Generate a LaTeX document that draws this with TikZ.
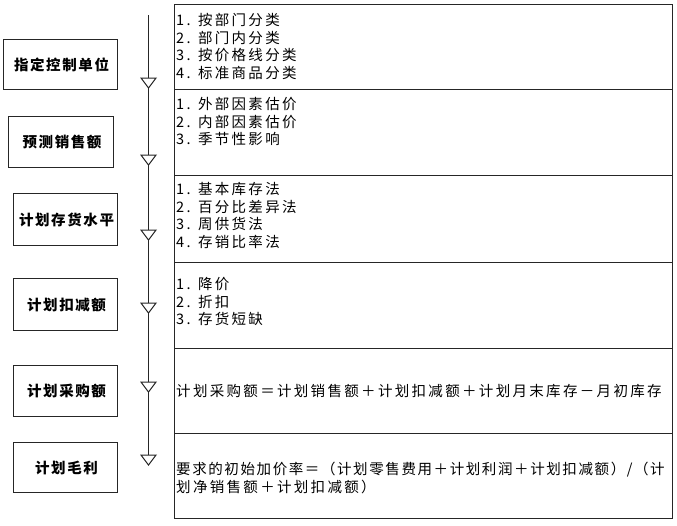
\documentclass[tikz,border=0pt]{standalone}
\usepackage{fontspec}
\setmainfont{Noto Sans CJK SC}
\newfontfamily\bodyfont{Noto Sans CJK SC}[LetterSpace=16]
\newfontfamily\tightfont{Noto Sans CJK SC}[LetterSpace=11]
\newfontfamily\labfont{Noto Sans CJK SC}[LetterSpace=11]
\begin{document}
\begin{tikzpicture}[x=1pt,y=-1pt,
  box/.style={draw=black!85,line width=1.1pt,anchor=north west,inner sep=0pt},
  lab/.style={font=\labfont\fontsize{14.5pt}{16pt}\selectfont\bfseries},
  txt/.style={anchor=base west,inner sep=0pt,font=\bodyfont\fontsize{14.5pt}{17pt}\selectfont},
  tighttxt/.style={txt,font=\tightfont\fontsize{14.5pt}{17pt}\selectfont},
  tri/.style={draw=black!85,line width=1pt,fill=white}]
\useasboundingbox[fill=white] (0,0) rectangle (677,525);
% right table rows
\node[box,minimum width=498pt,minimum height=85pt] (row1) at (174,4) {};
\node[box,minimum width=498pt,minimum height=86pt] (row2) at (174,89) {};
\node[box,minimum width=498pt,minimum height=87pt] (row3) at (174,175) {};
\node[box,minimum width=498pt,minimum height=86pt] (row4) at (174,262) {};
\node[box,minimum width=498pt,minimum height=85pt] (row5) at (174,348) {};
\node[box,minimum width=498pt,minimum height=85pt] (row6) at (174,433) {};
% left boxes
\node[box,minimum width=114pt,minimum height=50pt] (b1) at (3,39) {};
\node[box,minimum width=105pt,minimum height=51pt] (b2) at (8,116) {};
\node[box,minimum width=104pt,minimum height=52pt] (b3) at (13,193) {};
\node[box,minimum width=104pt,minimum height=52pt] (b4) at (13,278) {};
\node[box,minimum width=104pt,minimum height=51pt] (b5) at (13,365) {};
\node[box,minimum width=104pt,minimum height=50pt] (b6) at (13,442) {};
\node[lab] (l1) at ([xshift=1pt]b1.center) {指定控制单位};
\node[lab] (l2) at ([xshift=1pt]b2.center) {预测销售额};
\node[lab] (l3) at ([xshift=1pt]b3.center) {计划存货水平};
\node[lab] (l4) at ([xshift=1pt]b4.center) {计划扣减额};
\node[lab] (l5) at ([xshift=1pt]b5.center) {计划采购额};
\node[lab] (l6) at ([xshift=1pt]b6.center) {计划毛利};
% vertical flow line with triangles
\coordinate (top) at (148.5,15);
\coordinate (bot) at (148.5,455);
\draw[draw=black!85,line width=1pt] (top) -- (bot);
\foreach \y in {78,155,230,303,382,455}
  \draw[tri] (141,\y) -- (156,\y) -- (148.5,\y+10) -- cycle;
% texts
\node[txt] (t1a) at (176,25.5) {1. 按部门分类};
\node[txt] (t1b) at (176,43) {2. 部门内分类};
\node[txt] (t1c) at (176,60.5) {3. 按价格线分类};
\node[txt] (t1d) at (176,78) {4. 标准商品分类};
\node[txt] (t2a) at (176,109.5) {1. 外部因素估价};
\node[txt] (t2b) at (176,127) {2. 内部因素估价};
\node[txt] (t2c) at (176,144.5) {3. 季节性影响};
\node[txt] (t3a) at (176,194.5) {1. 基本库存法};
\node[txt] (t3b) at (176,212) {2. 百分比差异法};
\node[txt] (t3c) at (176,229.5) {3. 周供货法};
\node[txt] (t3d) at (176,247) {4. 存销比率法};
\node[txt] (t4a) at (176,289.5) {1. 降价};
\node[txt] (t4b) at (176,307) {2. 折扣};
\node[txt] (t4c) at (176,324.5) {3. 存货短缺};
\node[txt] (t5a) at (176,396.5) {计划采购额＝计划销售额＋计划扣减额＋计划月末库存－月初库存};
\node[tighttxt] (t6a) at (176,474.5) {要求的初始加价率＝（计划零售费用＋计划利润＋计划扣减额）/（计};
\node[txt] (t6b) at (176,492) {划净销售额＋计划扣减额）};
\end{tikzpicture}
\end{document}
